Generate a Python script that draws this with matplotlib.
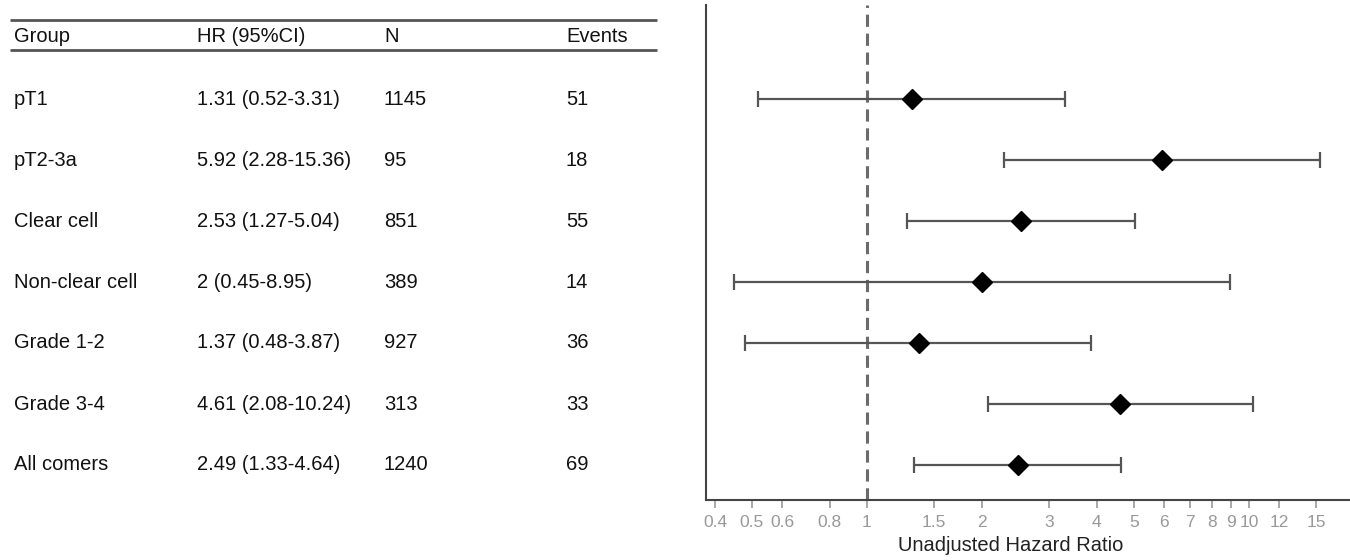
import matplotlib
matplotlib.use("Agg")
import matplotlib.pyplot as plt
import numpy as np

plt.rcParams['font.family'] = ['Liberation Sans', 'DejaVu Sans']

groups = ["pT1", "pT2-3a", "Clear cell", "Non-clear cell", "Grade 1-2", "Grade 3-4", "All comers"]
hr = [1.31, 5.92, 2.53, 2, 1.37, 4.61, 2.49]
lo = [0.52, 2.28, 1.27, 0.45, 0.48, 2.08, 1.33]
hi = [3.31, 15.36, 5.04, 8.95, 3.87, 10.24, 4.64]
n = [1145, 95, 851, 389, 927, 313, 1240]
events = [51, 18, 55, 14, 36, 33, 69]
headers = ["Group", "HR (95%CI)", "N", "Events"]
xticks = [0.4, 0.5, 0.6, 0.8, 1, 1.5, 2, 3, 4, 5, 6, 7, 8, 9, 10, 12, 15]

W, H = 1350, 560
fig = plt.figure(figsize=(W / 100, H / 100), dpi=100)

bottom = (H - 500) / H
top = (H - 5) / H
nrows = len(groups)
ypos = np.arange(nrows, 0, -1)
row_px = 61
ylim = (1 - 35 / row_px, nrows + 94 / row_px)

# ---- forest plot ----
axL, axR = 706, 1350
ax = fig.add_axes([axL / W, bottom, (axR - axL) / W, top - bottom])
ax.set_xscale('log')
ax.set_xlim(0.379, 18.4)
ax.set_ylim(*ylim)
hr_a = np.array(hr); lo_a = np.array(lo); hi_a = np.array(hi)
ax.errorbar(hr_a, ypos, xerr=[hr_a - lo_a, hi_a - hr_a], fmt='none',
            ecolor='#555555', elinewidth=1.6, capsize=6, capthick=1.6, zorder=2)
ax.plot(hr_a, ypos, 'D', color='black', markersize=10, zorder=3)
ax.axvline(1, color='#6b6b6b', lw=2.2, ls=(0, (4, 2.2)), zorder=1)
ax.set_xticks(xticks)
ax.set_xticklabels([f"{t:g}" for t in xticks])
ax.xaxis.set_minor_locator(matplotlib.ticker.NullLocator())
ax.tick_params(axis='x', colors='#999999', labelsize=12.5, length=6, width=1.2, pad=5)
ax.set_yticks([])
for s in ['top', 'right']:
    ax.spines[s].set_visible(False)
for s in ['left', 'bottom']:
    ax.spines[s].set_color('#444444')
    ax.spines[s].set_linewidth(1.5)
ax.set_xlabel("Unadjusted Hazard Ratio", fontsize=14.5, color='#222222')
ax.xaxis.set_label_coords((1011 - axL) / (axR - axL), -0.072)

# ---- table ----
tx = fig.add_axes([0, bottom, 680 / W, top - bottom])
tx.set_xlim(0, 680)
tx.set_ylim(*ylim)
tx.axis('off')
colx = [14, 197, 384, 566]
head_y = nrows + (99 - 37) / row_px
for x, h in zip(colx, headers):
    tx.text(x, head_y, h, fontsize=14.5, va='center', ha='left', color='#111111')
for yl in [nrows + (99 - 20) / row_px, nrows + (99 - 50) / row_px]:
    tx.plot([10, 657], [yl, yl], color='#555555', lw=2, solid_capstyle='butt')
for i, y in enumerate(ypos):
    vals = [groups[i], f"{hr[i]:g} ({lo[i]:g}-{hi[i]:g})", str(n[i]), str(events[i])]
    for x, v in zip(colx, vals):
        tx.text(x, y, v, fontsize=14.5, va='center', ha='left', color='#111111')

fig.savefig("out.png", dpi=100)
